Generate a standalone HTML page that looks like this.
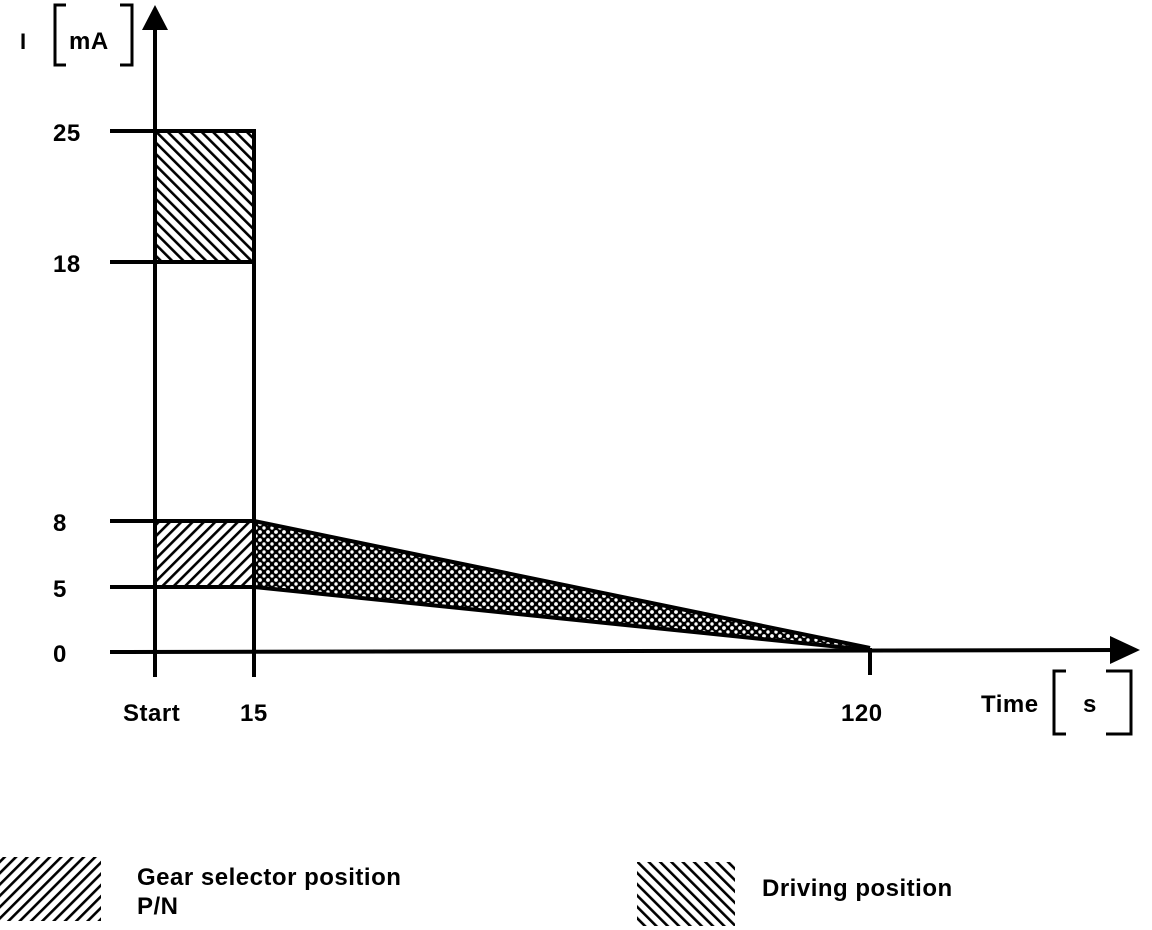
<!DOCTYPE html>
<html><head><meta charset="utf-8"><style>
html,body{margin:0;padding:0;background:#fff;width:1152px;height:930px;overflow:hidden}
text{font-family:"Liberation Sans",Arial,sans-serif;font-weight:bold;fill:#000;letter-spacing:0.5px}
</style></head><body>
<svg width="1152" height="930" viewBox="0 0 1152 930" xmlns="http://www.w3.org/2000/svg">
<defs>
<pattern id="fw" patternUnits="userSpaceOnUse" width="8" height="8" patternTransform="rotate(45)">
<rect width="8" height="8" fill="#fff"/><rect x="0" y="0" width="2.6" height="8" fill="#000"/></pattern>
<pattern id="bw" patternUnits="userSpaceOnUse" width="8" height="8" patternTransform="rotate(-45)">
<rect width="8" height="8" fill="#fff"/><rect x="0" y="0" width="2.6" height="8" fill="#000"/></pattern>
<pattern id="cx" patternUnits="userSpaceOnUse" width="8" height="8">
<rect width="8" height="8" fill="#000"/><circle cx="4" cy="4" r="1.9" fill="#fff"/><circle cx="0" cy="0" r="1.7" fill="#fff"/><circle cx="8" cy="0" r="1.7" fill="#fff"/><circle cx="0" cy="8" r="1.7" fill="#fff"/><circle cx="8" cy="8" r="1.7" fill="#fff"/></pattern>
</defs>
<rect x="155" y="131" width="99" height="131" fill="url(#bw)"/>
<rect x="155" y="521" width="99" height="66" fill="url(#fw)"/>
<polygon points="254,521 870,648 254,587" fill="url(#cx)"/>
<g stroke="#000" fill="none">
<line x1="155" y1="12" x2="155" y2="677" stroke-width="4"/>
<line x1="110" y1="652" x2="1120" y2="650" stroke-width="4"/>
<line x1="254" y1="129" x2="254" y2="677" stroke-width="4"/>
<line x1="870" y1="648" x2="870" y2="675" stroke-width="4"/>
<line x1="110" y1="131" x2="256" y2="131" stroke-width="4"/>
<line x1="110" y1="262" x2="256" y2="262" stroke-width="4"/>
<line x1="110" y1="521" x2="256" y2="521" stroke-width="4"/>
<line x1="110" y1="587" x2="256" y2="587" stroke-width="4"/>
<line x1="254" y1="521" x2="870" y2="648" stroke-width="4"/>
<line x1="254" y1="587" x2="870" y2="650" stroke-width="4"/>
<polyline points="66,5 55,5 55,65 66,65" stroke-width="3"/>
<polyline points="120,5 132,5 132,65 120,65" stroke-width="3"/>
<polyline points="1066,671 1054,671 1054,734 1066,734" stroke-width="3"/>
<polyline points="1106,671 1131,671 1131,734 1106,734" stroke-width="3"/>
</g>
<polygon points="155,5 142,30 168,30" fill="#000"/>
<polygon points="1140,650 1110,636 1110,664" fill="#000"/>
<text x="20" y="49" font-size="22" font-weight="normal">I</text>
<text x="69" y="49" font-size="24">mA</text>
<text x="53" y="141" font-size="24">25</text>
<text x="53" y="272" font-size="24">18</text>
<text x="53" y="531" font-size="24">8</text>
<text x="53" y="597" font-size="24">5</text>
<text x="53" y="662" font-size="24">0</text>
<text x="123" y="721" font-size="24">Start</text>
<text x="240" y="721" font-size="24">15</text>
<text x="841" y="721" font-size="24">120</text>
<text x="981" y="712" font-size="24">Time</text>
<text x="1083" y="712" font-size="24">s</text>
<rect x="0" y="857" width="101" height="64" fill="url(#fw)"/>
<rect x="637" y="862" width="98" height="64" fill="url(#bw)"/>
<text x="137" y="885" font-size="24">Gear selector position</text>
<text x="137" y="914" font-size="24">P/N</text>
<text x="762" y="896" font-size="24">Driving position</text>
</svg>
</body></html>
